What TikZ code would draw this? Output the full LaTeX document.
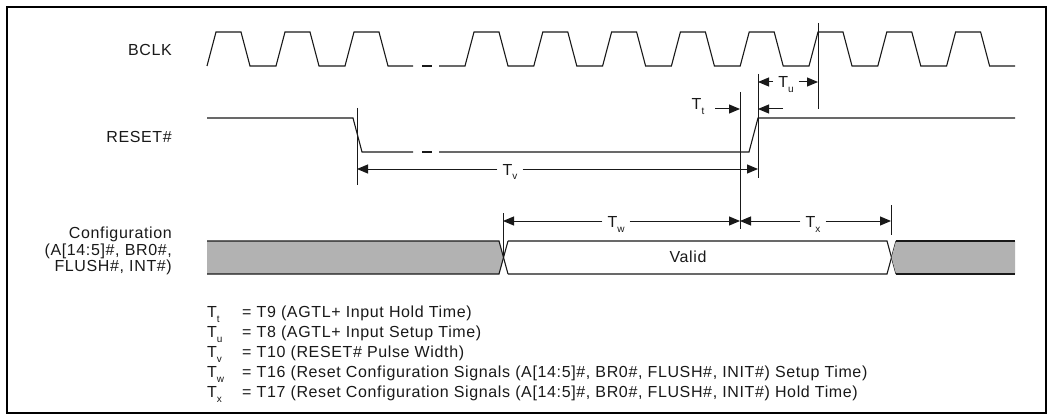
\documentclass[tikz,border=0pt]{standalone}
\usepackage{fontspec}
\setmainfont{Liberation Sans}[LetterSpace=4]
\usetikzlibrary{arrows.meta}
\newcommand{\Tsb}[1]{T\raisebox{-5pt}{\fontsize{10}{10}\selectfont #1}}
\begin{document}
\begin{tikzpicture}[x=1pt,y=-1pt,
  wave/.style={line width=1.1pt, black!90},
  refline/.style={line width=1pt, black!90},
  dimarrow/.style={line width=1pt, black!90, -{Triangle[length=11pt,width=9pt]}},
  lbl/.style={font=\fontsize{16}{16.5}\selectfont, inner sep=0pt, text=black!90},
  tlbl/.style={font=\fontsize{16}{16.5}\selectfont, inner xsep=5pt, inner ysep=0pt, text=black!90, anchor=base},
  busfill/.style={fill=black!30},
]
\useasboundingbox (0,0) rectangle (1053,420);
\draw[line width=2pt] (7,7) rectangle (1046,413);

% signal names
\node[lbl, anchor=east] (bclk) at (172,50) {BCLK};
\node[lbl, anchor=east] (reset) at (172,137) {RESET\#};
\node[lbl, anchor=east, align=right] (config) at (172,251) {Configuration\\(A[14:5]\#, BR0\#,\\FLUSH\#, INT\#)};

% BCLK
\draw[wave] (207,66) -- (216,32) -- (241,32) -- (250,66) -- (276,66) -- (285,32) -- (310,32) -- (319,66)
  -- (345,66) -- (354,32) -- (379,32) -- (388,66) -- (413,66);
\draw[wave] (422,66) -- (432,66);
\draw[wave] (439,66) -- (465,66)
  -- (474,32) -- (499,32) -- (508,66) -- (533.8,66)
  -- (542.8,32) -- (567.8,32) -- (576.8,66) -- (602.6,66)
  -- (611.6,32) -- (636.6,32) -- (645.6,66) -- (671.4,66)
  -- (680.4,32) -- (705.4,32) -- (714.4,66) -- (740.2,66)
  -- (749.2,32) -- (774.2,32) -- (783.2,66) -- (809,66)
  -- (818,32) -- (843,32) -- (852,66) -- (877.8,66)
  -- (886.8,32) -- (911.8,32) -- (920.8,66) -- (946.6,66)
  -- (955.6,32) -- (980.6,32) -- (989.6,66) -- (1015,66);

% RESET#
\draw[wave] (207,118) -- (353,118) -- (362,152) -- (413,152);
\draw[wave] (422,152) -- (432,152);
\draw[wave] (439,152) -- (749,152) -- (758,118) -- (1015,118);

% Configuration bus
\path[busfill] (207,241) -- (499,241) -- (503.5,257.5) -- (499,274) -- (207,274) -- cycle;
\draw[wave] (207,241) -- (499,241) -- (508,274);
\draw[wave] (207,274) -- (499,274) -- (508,241);
\draw[wave] (508,241) -- (887,241) -- (896,274);
\draw[wave] (508,274) -- (887,274) -- (896,241);
\path[busfill] (891.5,257.5) -- (896,241) -- (1015,241) -- (1015,274) -- (896,274) -- cycle;
\draw[wave] (896,241) -- (1015,241);
\draw[wave] (896,274) -- (1015,274);
\node[lbl] (valid) at (688,257) {Valid};

% reference lines
\coordinate (a1) at (357,108); \coordinate (a2) at (357,185);
\coordinate (b1) at (740,92);  \coordinate (b2) at (740,229);
\coordinate (c1) at (758,74);  \coordinate (c2) at (758,178);
\coordinate (d1) at (818,23);  \coordinate (d2) at (818,109);
\coordinate (e1) at (503,213); \coordinate (e2) at (503,257);
\coordinate (f1) at (891,205); \coordinate (f2) at (891,235);
\draw[refline] (a1) -- (a2);
\draw[refline] (b1) -- (b2);
\draw[refline] (c1) -- (c2);
\draw[refline] (d1) -- (d2);
\draw[refline] (e1) -- (e2);
\draw[refline] (f1) -- (f2);

% Tu
\node[tlbl] (tu) at (786,88) {\Tsb{u}};
\draw[dimarrow] (tu.west |- 0,82) -- (c1 |- 0,82);
\draw[dimarrow] (tu.east |- 0,82) -- (d1 |- 0,82);
% Tt
\node[tlbl] (tt) at (698,110) {\Tsb{t}};
\coordinate (ttl) at (715,109);
\draw[dimarrow] (ttl) -- (b1 |- ttl);
\coordinate (ttr) at (783,109);
\draw[dimarrow] (ttr) -- (c1 |- ttr);
% Tv
\node[tlbl] (tv) at (510,175) {\Tsb{v}};
\draw[dimarrow] (tv.west |- 0,169) -- (a1 |- 0,169);
\draw[dimarrow] (tv.east |- 0,169) -- (c1 |- 0,169);
% Tw
\node[tlbl] (tw) at (616,227) {\Tsb{w}};
\draw[dimarrow] (tw.west |- 0,221) -- (e1 |- 0,221);
\draw[dimarrow] (tw.east |- 0,221) -- (b1 |- 0,221);
% Tx
\node[tlbl] (tx) at (813,227) {\Tsb{x}};
\draw[dimarrow] (tx.west |- 0,221) -- (b1 |- 0,221);
\draw[dimarrow] (tx.east |- 0,221) -- (f1 |- 0,221);

% legend
\begin{scope}[every node/.style={lbl, anchor=base west}]
\node (l1t) at (207,317) {\Tsb{t}};
\node (l1) at (242,317) {= T9 (AGTL+ Input Hold Time)};
\node (l2t) at (207,337) {\Tsb{u}};
\node (l2) at (242,337) {= T8 (AGTL+ Input Setup Time)};
\node (l3t) at (207,357) {\Tsb{v}};
\node (l3) at (242,357) {= T10 (RESET\# Pulse Width)};
\node (l4t) at (207,377) {\Tsb{w}};
\node (l4) at (242,377) {= T16 (Reset Configuration Signals (A[14:5]\#, BR0\#, FLUSH\#, INIT\#) Setup Time)};
\node (l5t) at (207,397) {\Tsb{x}};
\node (l5) at (242,397) {= T17 (Reset Configuration Signals (A[14:5]\#, BR0\#, FLUSH\#, INIT\#) Hold Time)};
\end{scope}
\end{tikzpicture}
\end{document}
